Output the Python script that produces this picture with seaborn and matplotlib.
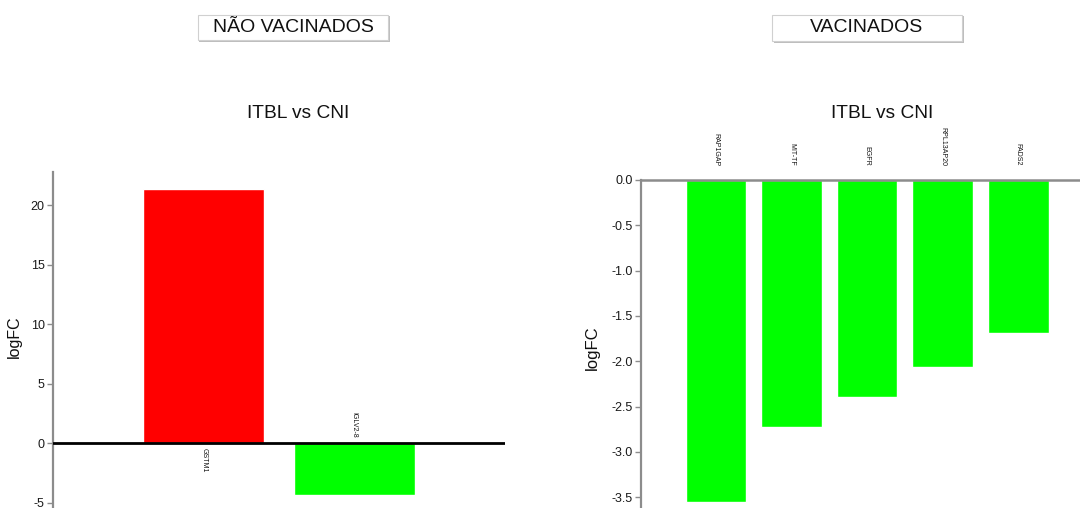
import matplotlib
matplotlib.use("Agg")
import matplotlib.pyplot as plt
from matplotlib.patches import Rectangle
import seaborn as sns
import pandas as pd

sns.set_theme(style="white")
plt.rcParams["font.family"] = ["Liberation Sans", "DejaVu Sans"]
plt.rcParams["axes.unicode_minus"] = False

# Non-vaccinated: ITBL vs CNI
genes_nv = ["GSTM1", "IGLV2-8"]
logfc_nv = [21.4, -4.37]

# Vaccinated: ITBL vs CNI
genes_v = ["RAP1GAP", "MIT-TF", "EGFR", "RPL13AP20", "FADS2"]
logfc_v = [-3.55, -2.73, -2.40, -2.06, -1.69]

UP = "#FF0000"
DOWN = "#00FF00"
SPINE = "#8c8c8c"

fig = plt.figure(figsize=(10.8, 5.08), dpi=100)
W, H = 1080, 508


def px_axes(x0, y0, x1, y1):
    return fig.add_axes([x0 / W, 1 - y1 / H, (x1 - x0) / W, (y1 - y0) / H])


def style_axis(ax, label_size):
    for s in ["top", "right", "bottom"]:
        ax.spines[s].set_visible(False)
    ax.spines["left"].set_color(SPINE)
    ax.spines["left"].set_linewidth(1.6)
    ax.tick_params(axis="y", direction="out", length=4, width=1, color=SPINE,
                   labelsize=9, labelcolor="#1a1a1a", pad=2, left=True)
    ax.tick_params(axis="x", bottom=False, labelbottom=False)
    ax.set_xlabel("")
    ax.set_ylabel("logFC", fontsize=label_size, color="#111111")


def bar_panel(ax, genes, values):
    df = pd.DataFrame({"gene": genes, "logFC": values})
    df["dir"] = ["up" if v > 0 else "down" for v in values]
    sns.barplot(data=df, x="gene", y="logFC", hue="dir",
                palette={"up": UP, "down": DOWN}, width=0.8,
                dodge=False, legend=False, ax=ax, saturation=1)
    return df


# ---- left panel ----
ax1 = px_axes(53, 172, 505, 508)
bar_panel(ax1, genes_nv, logfc_nv)
ax1.set_xlim(-1, 2)
ax1.set_ylim(-5.45, 22.8)
ax1.set_yticks([-5, 0, 5, 10, 15, 20])
ax1.axhline(0, color="black", lw=2, zorder=5)
style_axis(ax1, 11.5)
ax1.yaxis.set_label_coords(-0.068, 0.51)
for i, (g, v) in enumerate(zip(genes_nv, logfc_nv)):
    if v > 0:
        ax1.text(i, -0.42, g, rotation=-90, ha="center", va="top", fontsize=5, color="#111111")
    else:
        ax1.text(i, 0.42, g, rotation=-90, ha="center", va="bottom", fontsize=5, color="#111111")

# ---- right panel ----
ax2 = px_axes(641, 180, 1094, 508)
bar_panel(ax2, genes_v, logfc_v)
ax2.set_xlim(-0.99, 5.0)
ax2.set_ylim(-3.62, 0)
ticks_v = [-3.5, -3.0, -2.5, -2.0, -1.5, -1.0, -0.5, 0.0]
ax2.set_yticks(ticks_v)
ax2.set_yticklabels([f"{t:.1f}" for t in ticks_v])
ax2.axhline(0, color=SPINE, lw=1.8, zorder=5, clip_on=False)
style_axis(ax2, 12)
ax2.yaxis.set_label_coords(-0.09, 0.49)
for i, g in enumerate(genes_v):
    ax2.text(i, 0.155, g, rotation=-90, ha="center", va="bottom", fontsize=5,
             color="#111111", clip_on=False)

# ---- panel titles ----
fig.text(298 / W, 1 - 113 / H, "ITBL vs CNI", ha="center", va="center", fontsize=13.8, color="#111111")
fig.text(882 / W, 1 - 113 / H, "ITBL vs CNI", ha="center", va="center", fontsize=13.8, color="#111111")


# ---- group headers ----
def header(x0, y0, x1, y1, label):
    fig.patches.append(Rectangle((x0 / W + 1.5 / W, 1 - (y1 + 1.5) / H), (x1 - x0) / W, (y1 - y0) / H,
                                 transform=fig.transFigure, facecolor="#bdbdbd", edgecolor="none", zorder=1))
    fig.patches.append(Rectangle((x0 / W, 1 - y1 / H), (x1 - x0) / W, (y1 - y0) / H,
                                 transform=fig.transFigure, facecolor="white", edgecolor="#d0d0d0",
                                 lw=0.8, zorder=2))
    fig.text((x0 + x1) / 2 / W, 1 - (y0 + y1) / 2 / H, label, ha="center", va="center",
             fontsize=14, color="#111111", zorder=3)


header(198, 15, 388, 40, "NÃO VACINADOS")
header(772, 15, 962, 41, "VACINADOS")

fig.savefig("out.png", dpi=100)
